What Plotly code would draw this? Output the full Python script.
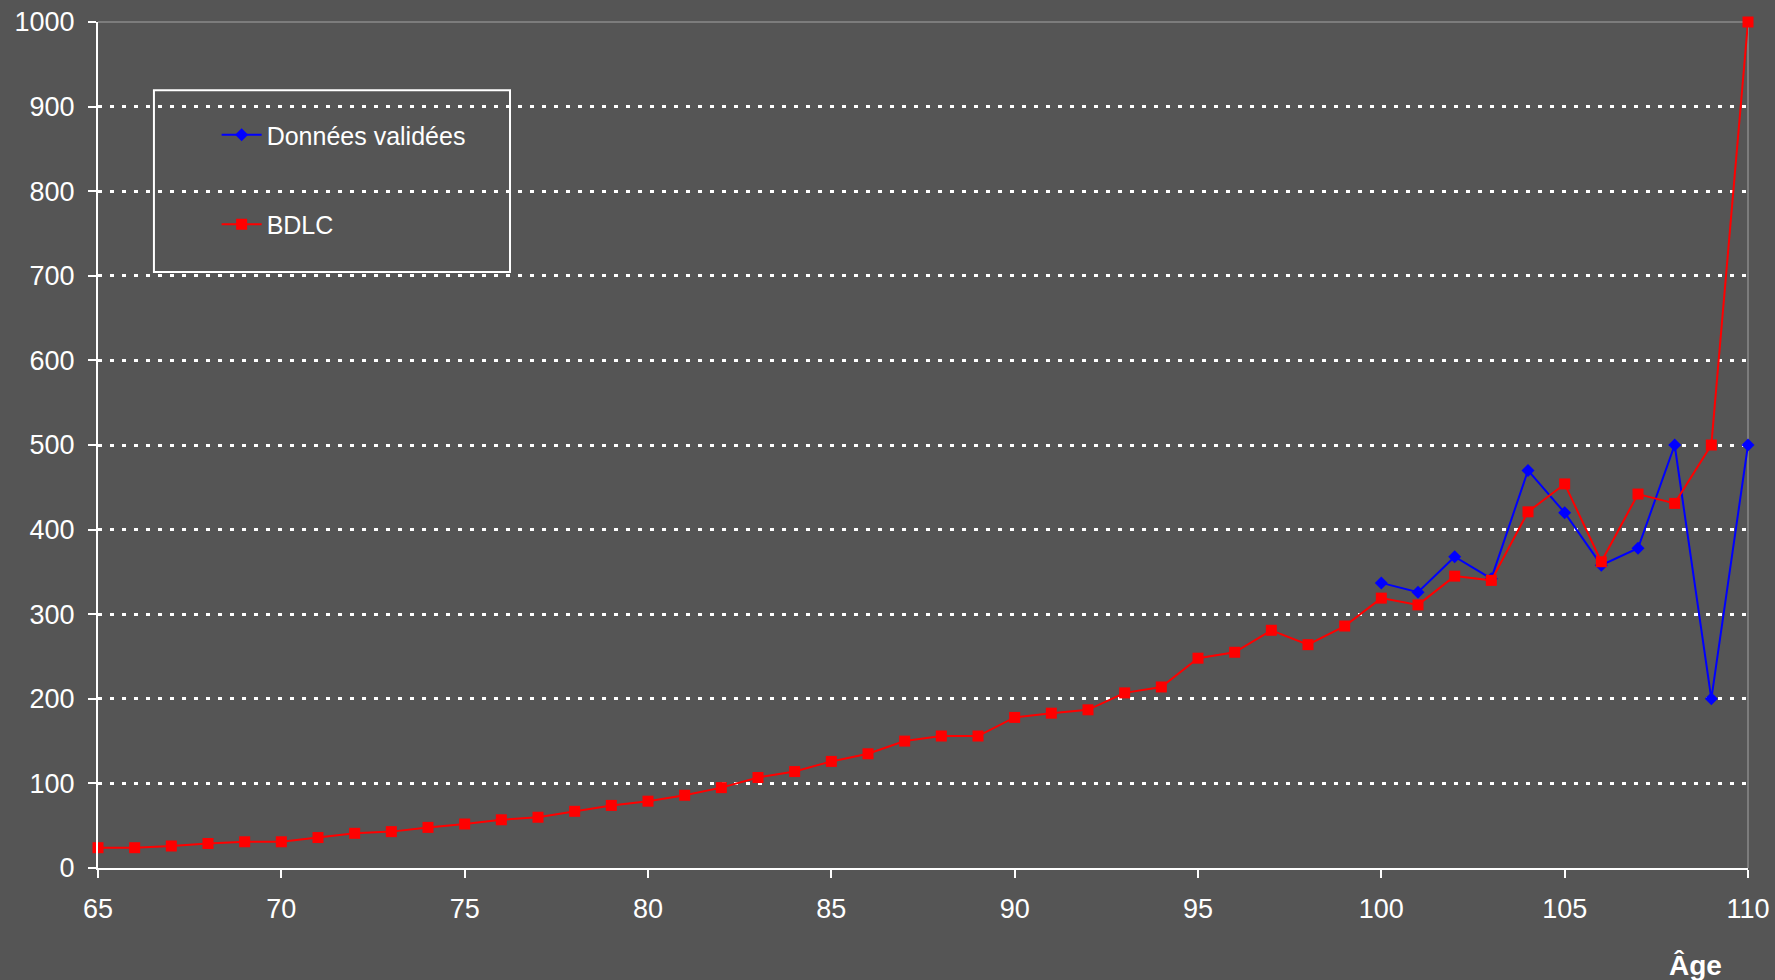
import plotly.graph_objects as go

ages = [65, 66, 67, 68, 69, 70, 71, 72, 73, 74, 75, 76, 77, 78, 79, 80, 81, 82, 83, 84,
        85, 86, 87, 88, 89, 90, 91, 92, 93, 94, 95, 96, 97, 98, 99, 100, 101, 102, 103,
        104, 105, 106, 107, 108, 109, 110]

bdlc = [24, 24, 26, 29, 31, 31, 36, 41, 43, 48, 52, 57, 60, 67, 74, 79, 86, 95, 107, 114,
        126, 135, 150, 156, 156, 178, 183, 187, 207, 214, 248, 255, 281, 264, 286, 319, 311,
        345, 340, 421, 454, 362, 442, 431, 500, 1000]

valid_ages = [100, 101, 102, 103, 104, 105, 106, 107, 108, 109, 110]
validees = [337, 326, 368, 342, 470, 420, 358, 378, 500, 200, 500]

x_ticks = [65, 70, 75, 80, 85, 90, 95, 100, 105, 110]
y_ticks = [0, 100, 200, 300, 400, 500, 600, 700, 800, 900, 1000]

BG = "#555555"
FONT = "Liberation Sans, Arial, sans-serif"

fig = go.Figure()
fig.add_trace(go.Scatter(
    x=valid_ages, y=validees, name="Données validées", mode="lines+markers",
    line=dict(color="#0000FF", width=2),
    marker=dict(symbol="diamond", size=10, color="#0000FF"),
    cliponaxis=False, legendgroup="a",
))
fig.add_trace(go.Scatter(
    x=ages, y=bdlc, name="BDLC", mode="lines+markers",
    line=dict(color="#FF0000", width=2),
    marker=dict(symbol="square", size=11, color="#FF0000"),
    cliponaxis=False, legendgroup="b",
))

fig.update_layout(
    width=1775, height=980,
    paper_bgcolor=BG, plot_bgcolor=BG,
    margin=dict(l=98, r=27, t=22, b=112, autoexpand=False),
    font=dict(family=FONT, color="#FFFFFF", size=27),
    showlegend=True,
    legend=dict(
        x=0.0719, y=0.8935, xanchor="left", yanchor="top",
        bgcolor="rgba(0,0,0,0)", borderwidth=0,
        font=dict(size=25, color="#FFFFFF"),
        tracegroupgap=54, itemwidth=40,
    ),
    shapes=[
        dict(type="rect", xref="paper", yref="paper", x0=0.0339, x1=0.2497, y0=0.7045, y1=0.9193,
             line=dict(color="#FFFFFF", width=2), fillcolor="rgba(0,0,0,0)", layer="above"),
        dict(type="line", xref="paper", yref="paper", x0=0, x1=1, y0=1, y1=1,
             line=dict(color="#8a8a8a", width=1.5), layer="below"),
        dict(type="line", xref="paper", yref="paper", x0=1, x1=1, y0=0, y1=1,
             line=dict(color="#8a8a8a", width=1.5), layer="below"),
    ],
    annotations=[
        dict(text="<b>Âge</b>", xref="paper", yref="paper", x=0.968, y=-0.115,
             xanchor="center", yanchor="middle", showarrow=False,
             font=dict(size=28, color="#FFFFFF", family=FONT)),
    ],
)

fig.update_xaxes(
    range=[65, 110], tickvals=x_ticks, showgrid=False, zeroline=False, automargin=False,
    showline=True, linecolor="#FFFFFF", linewidth=2,
    ticks="outside", ticklen=8, tickwidth=2, tickcolor="#FFFFFF",
    tickfont=dict(size=27, color="#FFFFFF"), ticklabelstandoff=8,
)
fig.update_yaxes(
    range=[0, 1000], tickvals=y_ticks, showgrid=True, gridcolor="#FFFFFF", gridwidth=2.5,
    griddash="4px,8px", zeroline=False, automargin=False,
    showline=True, linecolor="#FFFFFF", linewidth=2,
    ticks="outside", ticklen=8, tickwidth=2, tickcolor="#FFFFFF",
    tickfont=dict(size=27, color="#FFFFFF"), ticklabelstandoff=8,
)

fig.write_html(
    "out.html",
    config={"displayModeBar": False},
    post_script="document.body.style.margin='0';document.body.style.padding='0';"
                "document.body.style.overflow='hidden';"
                "document.body.style.background='" + BG + "';",
)
